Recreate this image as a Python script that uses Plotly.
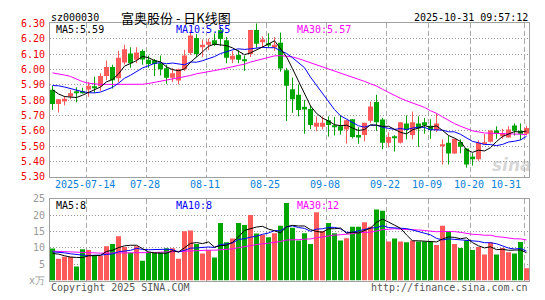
import numpy as np
import plotly.graph_objects as go

W, H = 545, 300

# ---------------- data ----------------
open_ = [5.868, 5.775, 5.790, 5.823, 5.856, 5.858, 5.869, 5.888, 5.890, 5.956,
         6.015, 5.942, 6.044, 6.104, 6.063, 6.120, 6.062, 6.060, 6.040, 6.008,
         5.946, 5.927, 6.000, 6.106, 6.204, 6.144, 6.160, 6.190, 6.254, 6.190,
         6.065, 6.094, 6.058, 6.100, 6.256, 6.177, 6.170, 6.143, 6.173, 5.994,
         5.871, 5.835, 5.756, 5.742, 5.627, 5.627, 5.669, 5.635, 5.629, 5.608,
         5.675, 5.573, 5.573, 5.665, 5.788, 5.673, 5.523, 5.558, 5.523, 5.648,
         5.573, 5.648, 5.656, 5.633, 5.606, 5.504, 5.523, 5.452, 5.527, 5.485,
         5.433, 5.415, 5.518, 5.529, 5.602, 5.565, 5.556, 5.635, 5.600, 5.581]
high = [5.892, 5.806, 5.827, 5.867, 5.883, 5.880, 5.917, 5.952, 5.975, 6.058,
        6.030, 6.121, 6.160, 6.144, 6.144, 6.130, 6.090, 6.067, 6.090, 6.029,
        6.008, 6.005, 6.127, 6.256, 6.229, 6.194, 6.200, 6.234, 6.275, 6.210,
        6.120, 6.125, 6.090, 6.256, 6.300, 6.215, 6.235, 6.210, 6.240, 6.008,
        5.946, 5.902, 5.800, 5.763, 5.694, 5.694, 5.694, 5.690, 5.700, 5.669,
        5.675, 5.623, 5.652, 5.790, 5.835, 5.683, 5.590, 5.571, 5.656, 5.700,
        5.725, 5.694, 5.683, 5.675, 5.715, 5.544, 5.569, 5.548, 5.544, 5.485,
        5.454, 5.538, 5.579, 5.602, 5.629, 5.612, 5.629, 5.648, 5.648, 5.633]
low = [5.736, 5.719, 5.765, 5.806, 5.785, 5.842, 5.821, 5.848, 5.858, 5.929,
       5.875, 5.915, 6.031, 6.010, 6.040, 6.030, 6.010, 5.956, 5.960, 5.906,
       5.917, 5.902, 5.990, 6.094, 6.080, 6.080, 6.125, 6.152, 6.152, 6.040,
       6.040, 6.040, 5.990, 6.080, 6.140, 6.142, 6.140, 6.120, 5.985, 5.663,
       5.717, 5.694, 5.581, 5.612, 5.598, 5.610, 5.562, 5.570, 5.575, 5.516,
       5.550, 5.516, 5.531, 5.652, 5.600, 5.481, 5.492, 5.465, 5.517, 5.544,
       5.544, 5.496, 5.581, 5.548, 5.592, 5.381, 5.381, 5.450, 5.454, 5.360,
       5.373, 5.404, 5.515, 5.523, 5.548, 5.548, 5.556, 5.569, 5.540, 5.571]
close = [5.775, 5.806, 5.808, 5.844, 5.850, 5.850, 5.894, 5.877, 5.956, 6.015,
         5.929, 6.075, 6.131, 6.040, 6.110, 6.065, 6.035, 6.035, 6.000, 5.946,
         5.975, 6.000, 6.090, 6.221, 6.100, 6.160, 6.179, 6.160, 6.198, 6.075,
         6.088, 6.063, 6.054, 6.256, 6.167, 6.194, 6.155, 6.160, 6.006, 5.894,
         5.806, 5.735, 5.738, 5.637, 5.652, 5.652, 5.637, 5.623, 5.602, 5.669,
         5.560, 5.556, 5.652, 5.758, 5.656, 5.523, 5.560, 5.555, 5.656, 5.606,
         5.656, 5.615, 5.635, 5.606, 5.648, 5.508, 5.452, 5.548, 5.496, 5.381,
         5.421, 5.523, 5.523, 5.602, 5.581, 5.585, 5.608, 5.600, 5.581, 5.618]
volume = [9.8, 6.7, 7.3, 7.3, 4.3, 9.6, 9.4, 7.6, 7.6, 10.5,
          11.2, 13.6, 10.3, 8.5, 10.5, 6.1, 8.6, 8.6, 8.6, 9.9,
          9.9, 6.7, 15.1, 15.3, 11.2, 8.3, 9.3, 7.1, 17.6, 11.7,
          12.9, 17.6, 17.0, 20.1, 14.4, 14.0, 13.3, 14.5, 16.8, 23.8,
          16.2, 12.3, 14.5, 11.2, 20.9, 15.2, 17.6, 14.5, 12.3, 13.0,
          16.5, 16.5, 17.9, 16.5, 21.8, 21.4, 12.0, 12.9, 12.0, 11.7,
          12.3, 12.0, 12.0, 12.0, 10.9, 16.8, 15.2, 11.2, 10.0, 12.3,
          9.4, 10.3, 8.0, 11.7, 8.0, 10.0, 8.7, 8.3, 11.8, 3.8]

# moving-average values before enough in-window data exists
price_ma5_head = [5.867, 5.840, 5.823, 5.819]
price_ma10_head = [5.895, 5.893, 5.885, 5.874, 5.865, 5.855, 5.848, 5.847, 5.852]
price_ma30_head = [5.977, 5.971, 5.963, 5.954, 5.935, 5.920, 5.910, 5.905, 5.902, 5.902,
                   5.902, 5.902, 5.902, 5.902, 5.902, 5.903, 5.908, 5.915, 5.921, 5.928,
                   5.935, 5.942, 5.950, 5.960, 5.971, 5.977, 5.985, 5.992, 6.000]
vol_ma5_head = [8.3, 8.1, 7.6, 7.2]
vol_ma10_head = [8.8, 8.7, 8.5, 8.2, 7.9, 7.8, 7.7, 7.7, 7.8]
vol_ma30_head = [9.0, 8.9, 8.8, 8.7, 8.6, 8.5, 8.5, 8.4, 8.4, 8.4,
                 8.4, 8.4, 8.5, 8.5, 8.5, 8.5, 8.6, 8.6, 8.7, 8.8,
                 8.8, 8.9, 9.0, 9.1, 9.2, 9.2, 9.3, 9.3, 9.4]

tick_index = [6, 16, 26, 36, 46, 56, 63, 70, 79]
tick_labels = ["2025-07-14", "07-28", "08-11", "08-25", "09-08", "09-22", "10-09", "10-20", "10-31"]
price_ticks = [5.30, 5.40, 5.50, 5.60, 5.70, 5.80, 5.90, 6.00, 6.10, 6.20, 6.30]
vol_ticks = [0, 5, 10, 15, 20, 25]
vol_tick_text = ["x万", "5", "10", "15", "20", "25"]

code = "sz000030"
title = "富奥股份 - 日K线图"
timestamp = "2025-10-31 09:57:12"
price_legend = ["MA5:5.59", "MA10:5.55", "MA30:5.57"]
vol_legend = ["MA5:8", "MA10:8", "MA30:12"]
footer_left = "Copyright 2025 SINA.COM"
footer_right = "http://finance.sina.com.cn"

# ---------------- helpers ----------------
RED = "#ff5a5a"
GREEN = "#00a600"
MONO = "DejaVu Sans Mono"


def ma(values, n, head):
    v = np.asarray(values, float)
    out = np.empty_like(v)
    out[: n - 1] = head
    for i in range(n - 1, len(v)):
        out[i] = v[i - n + 1: i + 1].mean()
    return out


def px(x):
    return x / W


def py(y):
    return 1 - y / H


o = np.array(open_)
c = np.array(close)
h = np.array(high)
lo = np.array(low)
n = len(c)
x = np.arange(n)
up = c >= o
colors = [RED if u else GREEN for u in up]

body_base = np.minimum(o, c)
body_h = np.maximum(np.abs(c - o), 0.006)

fig = go.Figure()

# candle wicks
for flag, col in ((True, RED), (False, GREEN)):
    wx, wy = [], []
    for i in range(n):
        if up[i] == flag:
            wx += [x[i], x[i], None]
            wy += [lo[i], h[i], None]
    fig.add_trace(go.Scatter(x=wx, y=wy, mode="lines", line=dict(color=col, width=1),
                             xaxis="x", yaxis="y", hoverinfo="skip"))

# candle bodies
fig.add_trace(go.Bar(x=x, y=body_h, base=body_base, marker=dict(color=colors, line=dict(width=0)),
                     xaxis="x", yaxis="y"))

# price MAs
for vals, nn, head, col in ((c, 30, price_ma30_head, "#ff00ff"),
                            (c, 10, price_ma10_head, "#0000ff"),
                            (c, 5, price_ma5_head, "#000000")):
    fig.add_trace(go.Scatter(x=x, y=ma(vals, nn, head), mode="lines",
                             line=dict(color=col, width=1), xaxis="x", yaxis="y"))

# volume bars
fig.add_trace(go.Bar(x=x, y=volume, marker=dict(color=colors, line=dict(width=0)),
                     xaxis="x2", yaxis="y2"))
for nn, head, col in ((30, vol_ma30_head, "#ff00ff"),
                      (10, vol_ma10_head, "#0000ff"),
                      (5, vol_ma5_head, "#000000")):
    fig.add_trace(go.Scatter(x=x, y=ma(volume, nn, head), mode="lines",
                             line=dict(color=col, width=1), xaxis="x2", yaxis="y2"))

x0 = -2.5 / 6
x1 = x0 + 479 / 6
grid_x = [i - 1 / 3 for i in tick_index]

common_x = dict(domain=[px(50), px(529)], range=[x0, x1], tickvals=grid_x, showticklabels=False,
                ticks="", showgrid=True, gridcolor="#aaaaaa", griddash="5px,3px", gridwidth=1,
                showline=True, mirror=True, linecolor="#a0a0a0", linewidth=1, zeroline=False,
                fixedrange=True)

fig.update_layout(
    width=W, height=H,
    margin=dict(l=0, r=0, t=0, b=0),
    paper_bgcolor="white", plot_bgcolor="white",
    showlegend=False, bargap=1 / 6, barmode="overlay",
    xaxis=dict(anchor="y", **common_x),
    xaxis2=dict(anchor="y2", **common_x),
    yaxis=dict(domain=[py(178), py(18)], range=[5.30, 6.30], tickvals=price_ticks,
               ticktext=[f"{v:.2f}" for v in price_ticks],
               tickfont=dict(family=MONO, size=10, color="#ee0000"),
               ticks="", ticklabelstandoff=2,
               showgrid=True, gridcolor="#999999", griddash="1px,2px", gridwidth=1,
               showline=True, mirror=True, linecolor="#a0a0a0", linewidth=1, zeroline=False),
    yaxis2=dict(domain=[py(286), py(201)], range=[0, 25], tickvals=vol_ticks, ticktext=vol_tick_text,
                tickfont=dict(family=MONO, size=10, color="#999999"),
                ticks="", ticklabelstandoff=2,
                showgrid=True, gridcolor="#999999", griddash="1px,2px", gridwidth=1,
                showline=True, mirror=True, linecolor="#a0a0a0", linewidth=1, zeroline=False),
)

ann = []


def text(t, xx, yy, color="#000", size=10, anchor="left", family=MONO, xref="paper"):
    ann.append(dict(text=t, x=xx if xref != "paper" else px(xx), y=py(yy), xref=xref, yref="paper",
                    xanchor=anchor, yanchor="middle", showarrow=False,
                    font=dict(family=family, size=size, color=color)))


text(code, 49, 11.5)
text(title, 175.5, 11.5, size=13, anchor="center", family="Noto Sans CJK SC")
text(timestamp, 530, 11.5, anchor="right")

ma_cols = ["#000000", "#0000ff", "#ff00ff"]
for t, xx, col in zip(price_legend, (54, 174, 295), ma_cols):
    text(t, xx, 24, color=col)
for t, xx, col in zip(vol_legend, (54, 174, 295), ma_cols):
    text(t, xx, 207.5, color=col)

for k, (ti, tl) in enumerate(zip(tick_index, tick_labels)):
    if k == len(tick_index) - 1:
        ann.append(dict(text=tl, x=px(523), y=py(186), xref="paper", yref="paper",
                        xanchor="right", yanchor="middle", showarrow=False,
                        font=dict(family=MONO, size=10, color="#0a80d6")))
    else:
        ann.append(dict(text=tl, x=ti - 1 / 3 - 0.2, y=py(186), xref="x", yref="paper",
                        xanchor="center", yanchor="middle", showarrow=False,
                        font=dict(family=MONO, size=10, color="#0a80d6")))

text(footer_left, 49, 293, color="#555555")
text(footer_right, 530, 293, color="#555555", anchor="right")

# faint sina watermark
ann.append(dict(text="<b><i>sina</i></b>", x=px(512), y=py(166), xref="paper", yref="paper",
                xanchor="center", yanchor="middle", showarrow=False,
                font=dict(family="DejaVu Sans", size=17, color="rgba(180,180,180,0.55)")))

fig.update_layout(annotations=ann)
fig.write_html("out.html")
